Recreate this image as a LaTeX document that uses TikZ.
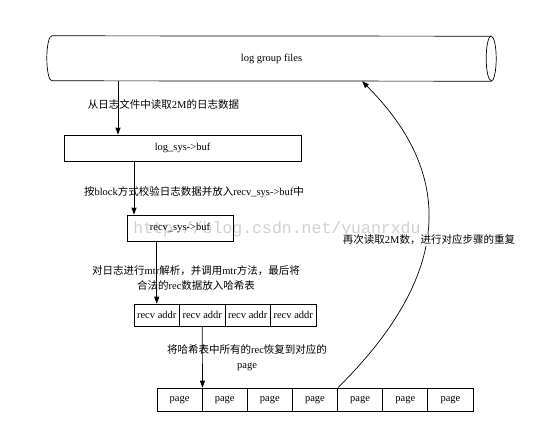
\documentclass[tikz,border=0pt]{standalone}
\usepackage{fontspec}
\setmainfont{Liberation Serif}
\newfontfamily\cjk{Noto Sans CJK SC}
\newfontfamily\wmfont{Liberation Mono}
\usetikzlibrary{arrows.meta}
\begin{document}
\begin{tikzpicture}[x=1pt,y=-1pt,
  every node/.style={font=\fontsize{10.5}{15}\selectfont},
  box/.style={draw, line width=0.7pt, inner sep=0pt, minimum height=26pt},
  cell/.style={draw, line width=0.7pt, inner sep=0pt},
  arr/.style={line width=0.7pt, -{Triangle[length=7pt,width=5pt]}},
  lbl/.style={inner sep=1pt, align=center},
  wm/.style={text=black!18, font=\wmfont\fontsize{16.5}{18}\selectfont, inner sep=0pt}]
\useasboundingbox (0,0) rectangle (545,434);
\fill[white] (0,0) rectangle (545,434);
% watermark
\node[wm] (wmark) at (277,229) {http://blog.csdn.net/yuanrxdu};
% cylinder
\node[inner sep=0pt, minimum width=439pt, minimum height=45pt] (cyl) at (271.5,58.5) {log group files};
\draw[line width=0.7pt] (cyl.north west) arc[start angle=90, end angle=270, x radius=5pt, y radius=22.5pt]
  -- (cyl.south east) arc[start angle=-90, end angle=90, x radius=5pt, y radius=22.5pt] -- cycle;
\draw[line width=0.7pt] (cyl.north east) arc[start angle=90, end angle=270, x radius=5pt, y radius=22.5pt];
% boxes
\node[box, minimum width=237pt] (logbox) at (182.5,148) {log\_sys->buf};
\node[box, minimum width=106pt] (recvbox) at (180,228) {recv\_sys->buf};
\foreach \i in {1,...,4}
  \node[cell, minimum width=45.5pt, minimum height=22pt] (a\i) at ({134+45.5*(\i-0.5)},315) {recv addr};
\foreach \i in {1,...,7}
  \node[cell, minimum width=45.14pt, minimum height=23pt] (p\i) at ({157+45.14*(\i-0.5)},399.5) {page};
% helper coordinates
\coordinate (x1) at (118,0);
\coordinate (x2) at (134,0);
\coordinate (x5) at (362,0);
% arrows
\draw[arr] (cyl.south -| x1) -- (logbox.north -| x1);
\draw[arr] (logbox.south -| x2) -- (recvbox.north -| x2);
\draw[arr] (recvbox.south -| a1.north) -- (a1.north);
\draw[arr] (a2.south) -- (p1.north east);
\draw[arr] (p4.north east) .. controls (452.5,274.5) and (455.5,174.5) .. (cyl.south -| x5);
% labels
\node[lbl] (l1) at (163.5,104) {{\cjk 从日志文件中读取}2M{\cjk 的日志数据}};
\node[lbl] (l2) at (194,192) {{\cjk 按}block{\cjk 方式校验日志数据并放入}recv\_sys->buf{\cjk 中}};
\node[lbl] (l3) at (196,277.5) {{\cjk 对日志进行}mtr{\cjk 解析，并调用}mtr{\cjk 方法，最后将}\\{\cjk 合法的}rec{\cjk 数据放入哈希表}};
\node[lbl] (l4) at (247,357.5) {{\cjk 将哈希表中所有的}rec{\cjk 恢复到对应的}\\page};
\node[lbl, fill=white] (l5) at (429,240) {{\cjk 再次读取}2M{\cjk 数，进行对应步骤的重复}};
\end{tikzpicture}
\end{document}
